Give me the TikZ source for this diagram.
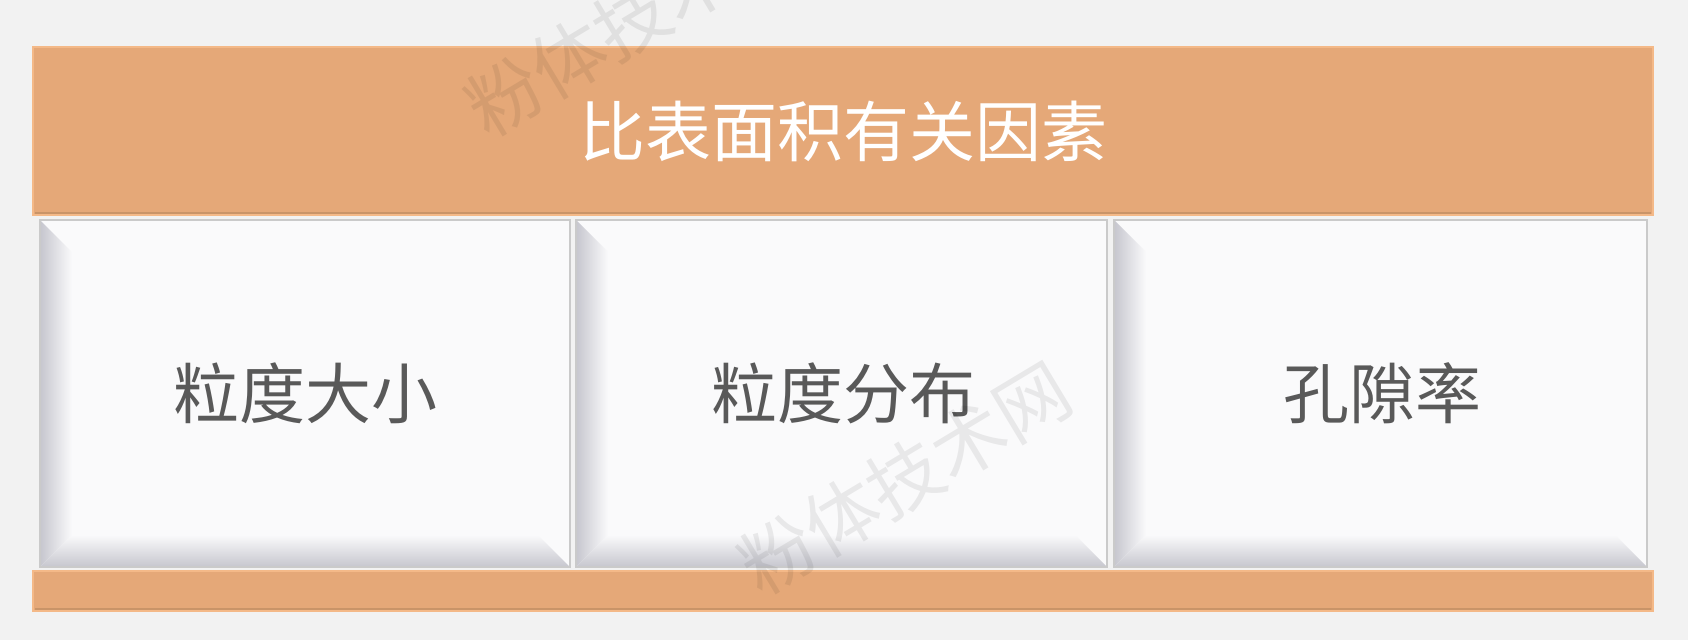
\documentclass[tikz,border=0pt]{standalone}
\usepackage{fontspec}
\newfontfamily\cjk{Noto Sans CJK SC}
\usetikzlibrary{shadings}
\definecolor{bg}{HTML}{F2F2F2}
\definecolor{bar}{HTML}{E5A878}
\definecolor{barlight}{HTML}{F4B988}
\definecolor{bardark}{HTML}{C99468}
\definecolor{boxfill}{HTML}{FAFAFB}
\definecolor{bevel}{HTML}{C6C6CE}
\definecolor{boxline}{HTML}{CACACA}
\definecolor{txt}{HTML}{595959}
\tikzset{
  barbox/.style={fill=bar, draw=barlight, line width=2pt},
  cardtext/.style={font=\cjk\fontsize{66}{74}\selectfont, text=txt},
  wmark/.style={font=\cjk\fontsize{74}{82}\selectfont, text=black, rotate=31, text opacity=0.07}
}
\newcommand{\card}[5]{% name, x1, y1, x2, y2
  \fill[boxfill] (#2,#3) rectangle (#4,#5);
  \shade[left color=bevel, right color=boxfill] (#2,#3) -- (#2+32,#3+32) -- (#2+32,#5-32) -- (#2,#5) -- cycle;
  \shade[bottom color=bevel, top color=boxfill] (#2,#5) -- (#2+32,#5-32) -- (#4-32,#5-32) -- (#4,#5) -- cycle;
  \draw[boxline, line width=2.5pt] (#2,#3) rectangle (#4,#5);
  \coordinate (#1) at ({(#2+#4)/2},{(#3+#5)/2});
}
\begin{document}
\begin{tikzpicture}[x=1pt,y=-1pt]
\fill[bg] (0,0) rectangle (1688,640);
% cards
\card{c1}{40}{220}{570}{567}
\card{c2}{576}{220}{1107}{567}
\card{c3}{1114}{220}{1647}{567}
% bars
\node[barbox, minimum width=1620pt, minimum height=168pt, inner sep=0pt] (top) at (843,131) {};
\draw[bardark, line width=2.5pt] (35,213) -- (1651,213);
\node[barbox, minimum width=1620pt, minimum height=40pt, inner sep=0pt] (bottom) at (843,591) {};
\draw[bardark, line width=2.5pt] (35,609) -- (1651,609);
% texts
\node[font=\cjk\fontsize{66}{74}\selectfont, text=white] (title) at (top) {比表面积有关因素};
\node[cardtext] (t1) at (c1) {粒度大小};
\node[cardtext] (t2) at ([xshift=2pt]c2) {粒度分布};
\node[cardtext] (t3) at ([xshift=2pt]c3) {孔隙率};
% watermarks
\begin{scope}
\clip (0,0) rectangle (1688,640);
\node[wmark] (w1) at (632,20) {粉体技术网};
\node[wmark] (w2) at (905,478) {粉体技术网};
\end{scope}
\pgfresetboundingbox
\useasboundingbox (0,0) rectangle (1688,640);
\end{tikzpicture}
\end{document}
